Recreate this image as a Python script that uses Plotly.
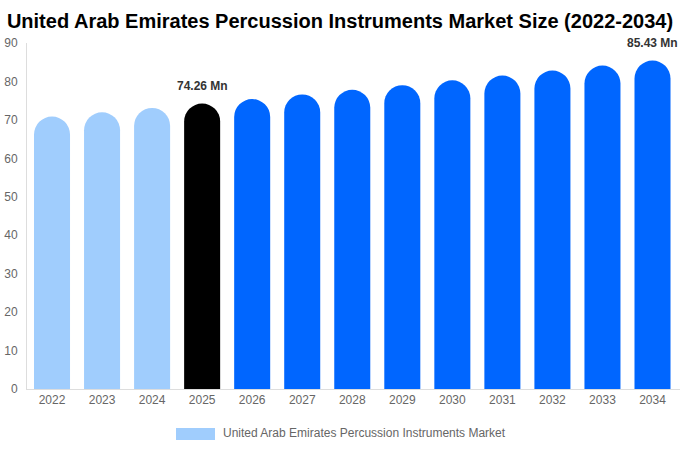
import plotly.graph_objects as go

years = ["2022", "2023", "2024", "2025", "2026", "2027", "2028",
         "2029", "2030", "2031", "2032", "2033", "2034"]
market_size = [70.86, 71.97, 73.11, 74.26, 75.43, 76.61, 77.82,
               79.04, 80.28, 81.54, 82.82, 84.12, 85.43]
labels = ["", "", "", "74.26 Mn", "", "", "", "", "", "", "", "", "85.43 Mn"]
series_name = "United Arab Emirates Percussion Instruments Market"

LIGHT = "#a0cdfd"
BLUE = "#0066ff"
colors = [LIGHT] * 3 + ["#000000"] + [BLUE] * 9


def main():
    fig = go.Figure(go.Bar(
        x=years, y=market_size,
        name=series_name,
        marker=dict(color=colors, cornerradius="50%", line_width=0),
        hovertemplate="%{x}: %{y:.2f} Mn<extra></extra>",
        showlegend=False,
    ))
    # value labels above the highlighted bars (x = category index,
    # numeric-looking category names would be read as positions)
    for i, (val, lab) in enumerate(zip(market_size, labels)):
        if lab:
            fig.add_annotation(x=i, y=val, text=f"<b>{lab}</b>", showarrow=False,
                               yanchor="bottom", yshift=9,
                               font=dict(size=12, color="#333333"))
    # legend drawn by hand: wide swatch + label, like the original
    fig.add_shape(type="rect", xref="paper", yref="paper",
                  x0=(176 - 27) / 653, x1=(215 - 27) / 653,
                  y0=(389 - 440) / 346, y1=(389 - 428) / 346,
                  fillcolor=LIGHT, line_width=0)
    fig.add_annotation(text=series_name, xref="paper", yref="paper",
                       x=(221 - 27) / 653, y=(389 - 433) / 346,
                       xanchor="left", yanchor="middle", showarrow=False,
                       font=dict(size=12, color="#666666"))
    fig.update_layout(
        width=680, height=450,
        margin=dict(l=27, r=0, t=43, b=61),
        paper_bgcolor="white", plot_bgcolor="white",
        bargap=0.28,
        font=dict(family="Liberation Sans, Arial", size=12, color="#666666"),
        title=dict(text="<b>United Arab Emirates Percussion Instruments Market Size (2022-2034)</b>",
                   x=0.5, xanchor="center", y=0.953, yanchor="middle",
                   font=dict(size=20, color="#000000")),
        xaxis=dict(type="category", showgrid=False, showline=True, linecolor="#dddddd",
                   ticks="", tickfont_size=12),
        yaxis=dict(range=[0, 90], dtick=10, showgrid=False, showline=True, linecolor="#dddddd",
                   ticks="", zeroline=False, ticklabelstandoff=6),
    )
    fig.write_html("out.html", config={"displayModeBar": False},
                   post_script="document.body.style.margin='0';")


if __name__ == '__main__':
    main()
